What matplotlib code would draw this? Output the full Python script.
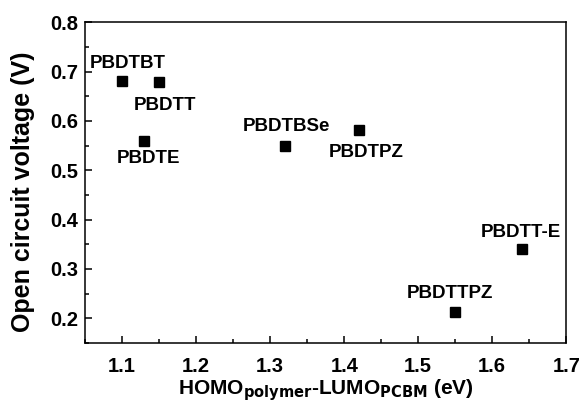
import matplotlib
matplotlib.use("Agg")
import matplotlib.pyplot as plt
from matplotlib.ticker import MultipleLocator

names = ["PBDTBT", "PBDTT", "PBDTE", "PBDTBSe", "PBDTPZ", "PBDTTPZ", "PBDTT-E"]
gap = [1.10, 1.15, 1.13, 1.32, 1.42, 1.55, 1.64]
voc = [0.68, 0.678, 0.56, 0.55, 0.581, 0.213, 0.34]
# label offsets in points relative to each marker
offsets = [(4, 13), (4, -17), (3, -13), (1, 14), (5, -16), (-4, 13), (-1, 12)]

plt.rcParams['font.family'] = ['Liberation Sans', 'DejaVu Sans']
plt.rcParams['font.weight'] = 'bold'

fig = plt.figure(figsize=(5.79, 4.03), dpi=100)
ax = fig.add_axes([0.147, 0.149, 0.831, 0.796])
ax.plot(gap, voc, 's', color='black', markersize=7.5, linestyle='none')

for name, x, y, off in zip(names, gap, voc, offsets):
    ax.annotate(name, (x, y), xytext=off, textcoords='offset points',
                ha='center', va='center', fontsize=13.5, fontweight='bold')

ax.set_xlim(1.05, 1.7)
ax.set_ylim(0.15, 0.8)
ax.xaxis.set_major_locator(MultipleLocator(0.1))
ax.xaxis.set_minor_locator(MultipleLocator(0.05))
ax.yaxis.set_major_locator(MultipleLocator(0.1))
ax.yaxis.set_minor_locator(MultipleLocator(0.05))
ax.tick_params(which='both', direction='in', top=False, right=False, width=1.1)
ax.tick_params(which='major', length=5)
ax.tick_params(which='minor', length=3)
ax.tick_params(axis='x', which='major', pad=10, labelsize=14.5)
ax.tick_params(axis='y', which='major', pad=5, labelsize=14.5)
for s in ax.spines.values():
    s.set_linewidth(1.1)

ax.set_xlabel(r"HOMO$_{\mathbf{polymer}}$-LUMO$_{\mathbf{PCBM}}$ (eV)",
              fontsize=15, fontweight='bold', labelpad=1)
ax.set_ylabel("Open circuit voltage (V)", fontsize=18, fontweight='bold')
ax.yaxis.set_label_coords(-0.104, 0.47)

fig.savefig("out.png", dpi=100)
